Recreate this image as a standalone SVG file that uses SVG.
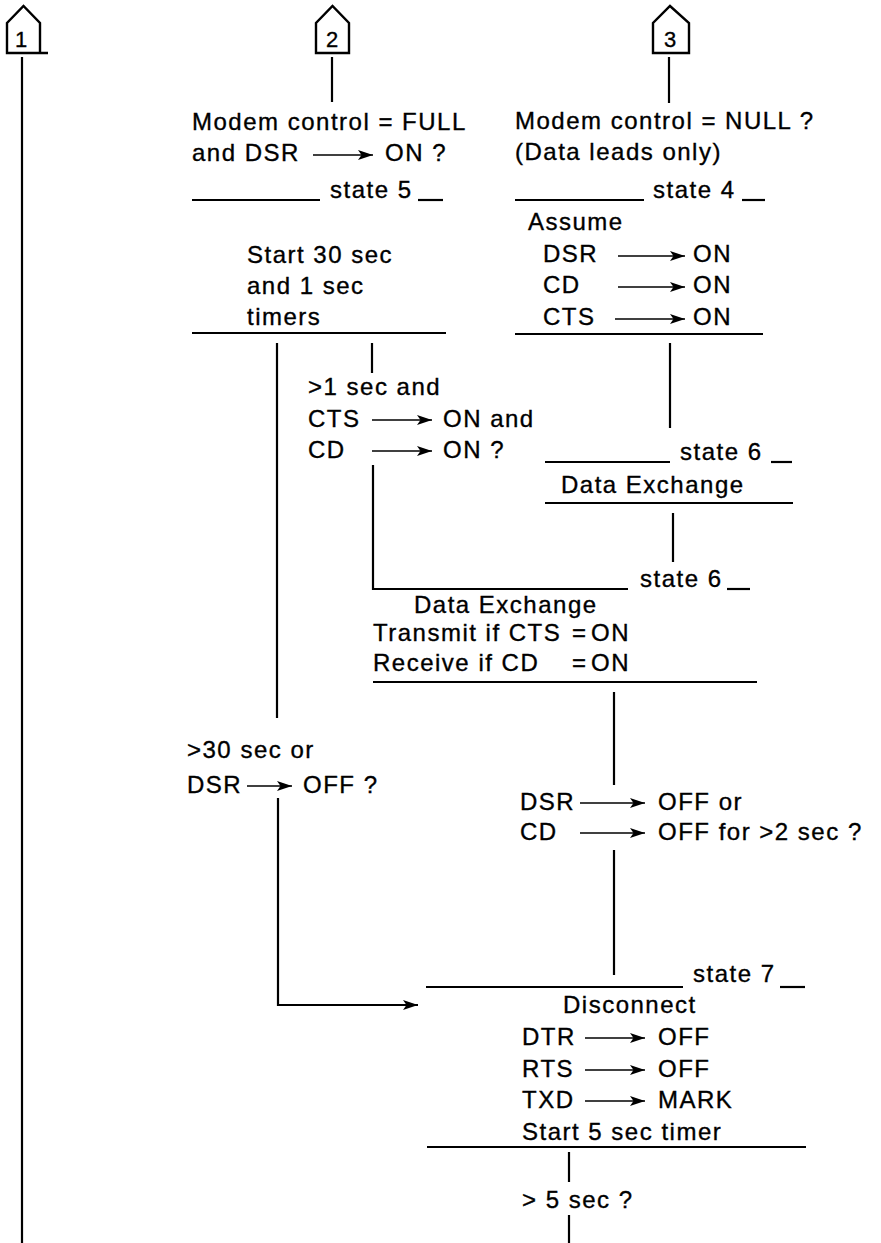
<svg xmlns="http://www.w3.org/2000/svg" width="881" height="1243" viewBox="0 0 881 1243">
<style>
  text { font-family: "Liberation Sans", Arial, Helvetica, sans-serif; font-size: 24px; letter-spacing: 1.5px; fill: #000; stroke: #000; stroke-width: 0.35px; }
  .num { font-size: 22px; letter-spacing: 0; text-anchor: middle; }
  .ln { stroke: #000; stroke-width: 2.2; fill: none; }
  .ar { stroke: #000; stroke-width: 1.7; fill: none; marker-end: url(#ah); }
  .arc { stroke: #000; stroke-width: 2.2; fill: none; marker-end: url(#ah); }
  .pent { stroke: #000; stroke-width: 2.4; fill: none; stroke-linejoin: miter; }
</style>
<defs>
  <marker id="ah" markerUnits="userSpaceOnUse" markerWidth="16" markerHeight="11" refX="15" refY="5" orient="auto">
    <path d="M0,0 L15,5 L0,10 L3.5,5 Z" fill="#000"/>
  </marker>
</defs>
<rect width="881" height="1243" fill="#fff"/>

<g id="conn1">
  <path class="pent" d="M7,53 V23 L23.5,6 L40,23 V53 Z M40,53 H48"/>
  <text class="num" x="21" y="47">1</text>
</g>
<g id="conn2">
  <path class="pent" d="M316,53 V23 L332.5,6 L349,23 V53 Z"/>
  <text class="num" x="332" y="47">2</text>
</g>
<g id="conn3">
  <path class="pent" d="M653,53 V23 L670,6 L689,23 V53 Z"/>
  <text class="num" x="670" y="47">3</text>
</g>

<g id="state5">
  <text x="192" y="130">Modem control = FULL</text>
  <text x="192" y="161">and DSR</text>
  <line class="ar" x1="313" y1="155" x2="373" y2="155"/>
  <text x="385" y="161">ON ?</text>
  <line class="ln" x1="192" y1="200" x2="320" y2="200"/>
  <text x="330" y="198">state 5</text>
  <line class="ln" x1="418" y1="200" x2="443" y2="200"/>
  <text x="247" y="263">Start 30 sec</text>
  <text x="247" y="294">and 1 sec</text>
  <text x="247" y="325">timers</text>
  <line class="ln" x1="192" y1="333" x2="446" y2="333"/>
</g>

<g id="state4">
  <text x="515" y="129">Modem control = NULL ?</text>
  <text x="515" y="160">(Data leads only)</text>
  <line class="ln" x1="515" y1="200" x2="644" y2="200"/>
  <text x="653" y="198">state 4</text>
  <line class="ln" x1="742" y1="200" x2="765" y2="200"/>
  <text x="528" y="230">Assume</text>
  <text x="543" y="262">DSR</text>
  <line class="ar" x1="618" y1="256" x2="685" y2="256"/>
  <text x="693" y="262">ON</text>
  <text x="543" y="293">CD</text>
  <line class="ar" x1="618" y1="287" x2="685" y2="287"/>
  <text x="693" y="293">ON</text>
  <text x="543" y="325">CTS</text>
  <line class="ar" x1="615" y1="319" x2="685" y2="319"/>
  <text x="693" y="325">ON</text>
  <line class="ln" x1="515" y1="334" x2="763" y2="334"/>
</g>

<g id="decision-1sec">
  <text x="308" y="395">&gt;1 sec and</text>
  <text x="308" y="427">CTS</text>
  <line class="ar" x1="372" y1="420" x2="432" y2="420"/>
  <text x="443" y="427">ON and</text>
  <text x="308" y="458">CD</text>
  <line class="ar" x1="372" y1="451" x2="432" y2="451"/>
  <text x="443" y="458">ON ?</text>
</g>

<g id="state6-null">
  <line class="ln" x1="545" y1="462" x2="670" y2="462"/>
  <text x="680" y="460">state 6</text>
  <line class="ln" x1="771" y1="462" x2="792" y2="462"/>
  <text x="561" y="493">Data Exchange</text>
  <line class="ln" x1="545" y1="503" x2="793" y2="503"/>
</g>

<g id="state6-full">
  <text x="640" y="587">state 6</text>
  <line class="ln" x1="727" y1="589" x2="750" y2="589"/>
  <text x="414" y="613">Data Exchange</text>
  <text x="373" y="641">Transmit if CTS<tspan x="572">=</tspan><tspan x="591">ON</tspan></text>
  <text x="373" y="671">Receive if CD<tspan x="572">=</tspan><tspan x="591">ON</tspan></text>
  <line class="ln" x1="373" y1="682" x2="757" y2="682"/>
</g>

<g id="decision-30sec">
  <text x="187" y="758">&gt;30 sec or</text>
  <text x="187" y="793">DSR</text>
  <line class="ar" x1="247" y1="786" x2="292" y2="786"/>
  <text x="303" y="793">OFF ?</text>
</g>

<g id="decision-dsroff">
  <text x="520" y="810">DSR</text>
  <line class="ar" x1="580" y1="803" x2="645" y2="803"/>
  <text x="658" y="810">OFF or</text>
  <text x="520" y="840">CD</text>
  <line class="ar" x1="580" y1="833" x2="645" y2="833"/>
  <text x="658" y="840">OFF for &gt;2 sec ?</text>
</g>

<g id="state7">
  <line class="ln" x1="426" y1="987" x2="683" y2="987"/>
  <text x="693" y="982">state 7</text>
  <line class="ln" x1="780" y1="987" x2="805" y2="987"/>
  <text x="563" y="1013">Disconnect</text>
  <text x="522" y="1045">DTR</text>
  <line class="ar" x1="585" y1="1038" x2="645" y2="1038"/>
  <text x="658" y="1045">OFF</text>
  <text x="522" y="1077">RTS</text>
  <line class="ar" x1="585" y1="1070" x2="645" y2="1070"/>
  <text x="658" y="1077">OFF</text>
  <text x="522" y="1108">TXD</text>
  <line class="ar" x1="585" y1="1101" x2="645" y2="1101"/>
  <text x="658" y="1108">MARK</text>
  <text x="522" y="1140">Start 5 sec timer</text>
  <line class="ln" x1="427" y1="1147" x2="806" y2="1147"/>
</g>

<g id="decision-5sec">
  <text x="522" y="1208">&gt; 5 sec ?</text>
</g>

<g id="connectors">
  <line class="ln" x1="22" y1="57" x2="22" y2="1243"/>
  <line class="ln" x1="332" y1="57" x2="332" y2="102"/>
  <line class="ln" x1="669" y1="57" x2="669" y2="103"/>
  <line class="ln" x1="372" y1="343" x2="372" y2="373"/>
  <line class="ln" x1="670" y1="343" x2="670" y2="428"/>
  <polyline class="ln" points="373,465 373,589 628,589"/>
  <line class="ln" x1="673" y1="513" x2="673" y2="562"/>
  <line class="ln" x1="277" y1="343" x2="277" y2="718"/>
  <polyline class="arc" points="278,798 278,1005 418,1005"/>
  <line class="ln" x1="614" y1="692" x2="614" y2="785"/>
  <line class="ln" x1="614" y1="850" x2="614" y2="975"/>
  <line class="ln" x1="569" y1="1152" x2="569" y2="1182"/>
  <line class="ln" x1="569" y1="1215" x2="569" y2="1243"/>
</g>
</svg>
